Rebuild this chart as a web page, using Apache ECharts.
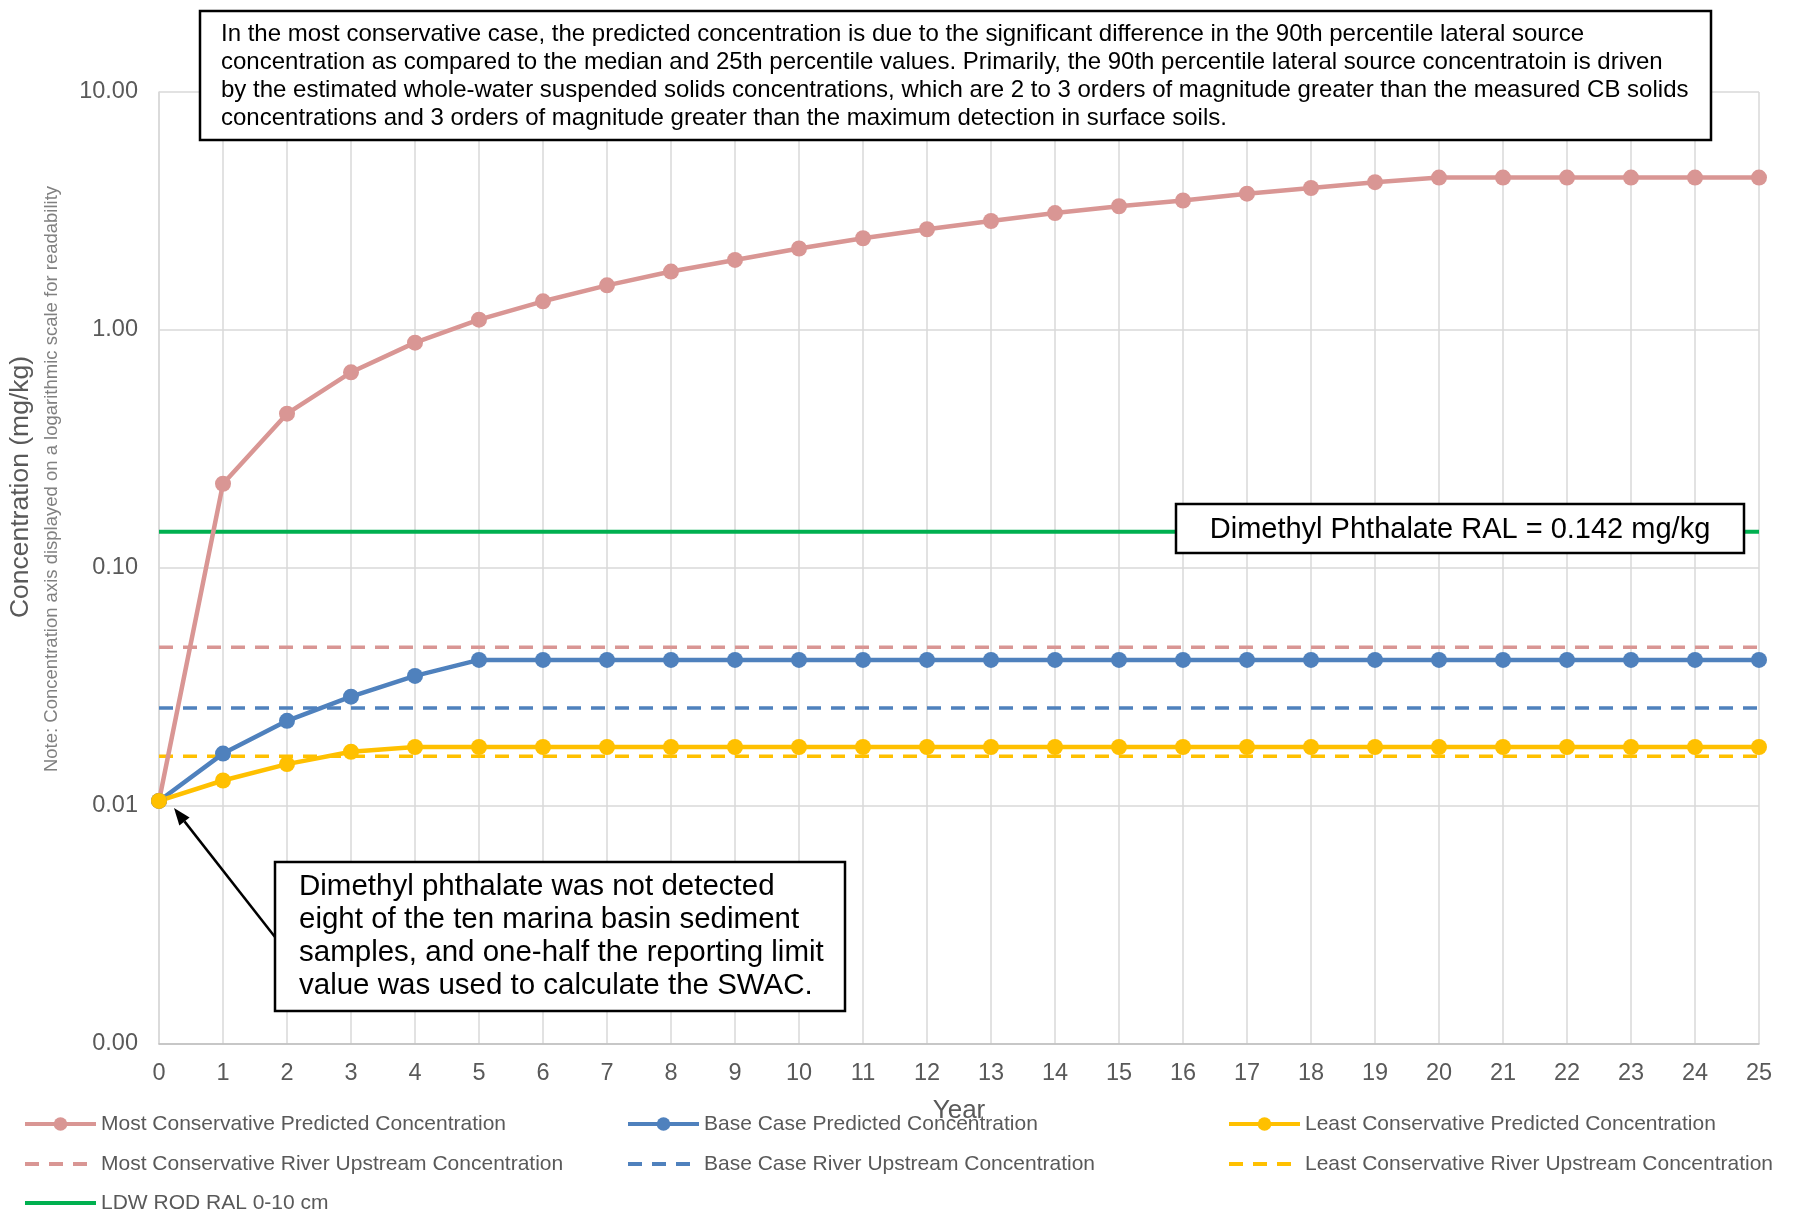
<!DOCTYPE html>
<html>
<head>
<meta charset="utf-8">
<script src="https://cdn.jsdelivr.net/npm/echarts@6/dist/echarts.min.js"></script>
<style>
    html, body { margin: 0; padding: 0; background: #fff; }
    #chart { width: 1797px; height: 1214px; }
</style>
</head>
<body>
<div id="chart"></div>
<script>
// data (mg/kg, log axis)
var years = [0, 1, 2, 3, 4, 5, 6, 7, 8, 9, 10, 11, 12, 13, 14, 15, 16, 17, 18, 19, 20, 21, 22, 23, 24, 25];
var mostPredicted = [0.0105, 0.226, 0.445, 0.664, 0.885, 1.105, 1.32, 1.54, 1.76, 1.97, 2.20, 2.43, 2.65, 2.87, 3.10, 3.31, 3.50, 3.74, 3.95, 4.18, 4.37, 4.37, 4.37, 4.37, 4.37, 4.37];
var basePredicted = [0.0105, 0.0166, 0.0228, 0.0288, 0.0352, 0.0411, 0.0411, 0.0411, 0.0411, 0.0411, 0.0411, 0.0411, 0.0411, 0.0411, 0.0411, 0.0411, 0.0411, 0.0411, 0.0411, 0.0411, 0.0411, 0.0411, 0.0411, 0.0411, 0.0411, 0.0411];
var leastPredicted = [0.0105, 0.0128, 0.0150, 0.0169, 0.0177, 0.0177, 0.0177, 0.0177, 0.0177, 0.0177, 0.0177, 0.0177, 0.0177, 0.0177, 0.0177, 0.0177, 0.0177, 0.0177, 0.0177, 0.0177, 0.0177, 0.0177, 0.0177, 0.0177, 0.0177, 0.0177];
var mostUpstream = 0.0464;
var baseUpstream = 0.0258;
var leastUpstream = 0.0162;
var ralValue = 0.142;
var yearRange = [0, 25];

var FONT = "'Liberation Sans', Arial, sans-serif";
var PINK = '#D99694', BLUE = '#4F81BD', YELLOW = '#FFC000', GREEN = '#00B050';

var topNote = 'In the most conservative case, the predicted concentration is due to the significant difference in the 90th percentile lateral source\n' +
    'concentration as compared to the median and 25th percentile values. Primarily, the 90th percentile lateral source concentratoin is driven\n' +
    'by the estimated whole-water suspended solids concentrations, which are 2 to 3 orders of magnitude greater than the measured CB solids\n' +
    'concentrations and 3 orders of magnitude greater than the maximum detection in surface soils.';
var ndNote = 'Dimethyl phthalate was not detected\neight of the ten marina basin sediment\nsamples, and one-half the reporting limit\nvalue was used to calculate the SWAC.';

function pairs(ys) {
    var out = [];
    for (var i = 0; i < years.length; i++) out.push([years[i], ys[i]]);
    return out;
}
function flat(v) {
    return [[yearRange[0], v], [yearRange[1], v]];
}
function predicted(name, color, ys) {
    return {
        name: name, type: 'line', data: pairs(ys),
        symbol: 'circle', symbolSize: 16, showAllSymbol: true,
        lineStyle: { color: color, width: 4.5 },
        itemStyle: { color: color }
    };
}
function upstream(name, color, v) {
    return {
        name: name, type: 'line', data: flat(v), symbol: 'none',
        lineStyle: { color: color, width: 3.5, type: [14, 10] },
        itemStyle: { color: color }
    };
}
// one legend per entry so the three columns line up like the original
function legendItem(left, centerY, name, noDot) {
    var entry = { name: name };
    if (noDot) entry.itemStyle = { opacity: 0 };
    return {
        orient: 'horizontal', left: left, top: centerY - 10, padding: 0,
        itemWidth: 71, itemHeight: 17,
        lineStyle: { width: 4 },
        textStyle: { fontFamily: FONT, fontSize: 21, color: '#595959', lineHeight: 24 },
        data: [entry]
    };
}

// arrow to year 0 point
var tail = [275, 937], tip = [174, 808];
var dx = tip[0] - tail[0], dy = tip[1] - tail[1], len = Math.sqrt(dx * dx + dy * dy);
var ux = dx / len, uy = dy / len;
var hb = [tip[0] - 17 * ux, tip[1] - 17 * uy];
var head = [tip, [hb[0] - 6.5 * uy, hb[1] + 6.5 * ux], [hb[0] + 6.5 * uy, hb[1] - 6.5 * ux]];

var chart = echarts.init(document.getElementById('chart'));
chart.setOption({
    backgroundColor: '#fff',
    animation: false,
    textStyle: { fontFamily: FONT },
    grid: { left: 159, top: 92, width: 1600, height: 952 },
    legend: [
        legendItem(23, 1122, 'Most Conservative Predicted Concentration'),
        legendItem(626, 1122, 'Base Case Predicted Concentration'),
        legendItem(1227, 1122, 'Least Conservative Predicted Concentration'),
        legendItem(23, 1162, 'Most Conservative River Upstream Concentration', true),
        legendItem(626, 1162, 'Base Case River Upstream Concentration', true),
        legendItem(1227, 1162, 'Least Conservative River Upstream Concentration', true),
        legendItem(23, 1201, 'LDW ROD RAL 0-10 cm', true)
    ],
    xAxis: {
        type: 'value', min: 0, max: 25, interval: 1,
        name: 'Year', nameLocation: 'middle', nameGap: 54,
        nameTextStyle: { fontFamily: FONT, fontSize: 26, color: '#595959' },
        axisLine: { lineStyle: { color: '#BFBFBF', width: 1.5 } },
        axisTick: { show: false },
        axisLabel: { fontSize: 23.5, color: '#595959', margin: 18 },
        splitLine: { show: true, lineStyle: { color: '#D9D9D9', width: 1.5 } }
    },
    yAxis: {
        type: 'log', logBase: 10, min: 0.001, max: 10,
        axisLine: { show: true, lineStyle: { color: '#D9D9D9', width: 1.5 } },
        axisTick: { show: false },
        axisLabel: { fontSize: 23.5, color: '#595959', margin: 21, formatter: function (v) { return v.toFixed(2); } },
        splitLine: { show: true, lineStyle: { color: '#D9D9D9', width: 1.5 } }
    },
    series: [
        {
            name: 'LDW ROD RAL 0-10 cm', type: 'line', data: flat(ralValue), symbol: 'none',
            lineStyle: { color: GREEN, width: 4 }, itemStyle: { color: GREEN }
        },
        upstream('Most Conservative River Upstream Concentration', PINK, mostUpstream),
        upstream('Base Case River Upstream Concentration', BLUE, baseUpstream),
        upstream('Least Conservative River Upstream Concentration', YELLOW, leastUpstream),
        predicted('Most Conservative Predicted Concentration', PINK, mostPredicted),
        predicted('Base Case Predicted Concentration', BLUE, basePredicted),
        predicted('Least Conservative Predicted Concentration', YELLOW, leastPredicted)
    ],
    graphic: [
        {
            type: 'text', x: 21, y: 487, rotation: Math.PI / 2,
            style: { text: 'Concentration (mg/kg)', fontFamily: FONT, fontSize: 26.5, fill: '#595959', align: 'center', verticalAlign: 'middle' }
        },
        {
            type: 'text', x: 52, y: 479, rotation: Math.PI / 2,
            style: { text: 'Note: Concentration axis displayed on a logarithmic scale for readability', fontFamily: FONT, fontSize: 18.5, fill: '#808080', align: 'center', verticalAlign: 'middle' }
        },
        {
            type: 'rect', z: 100, shape: { x: 200, y: 11, width: 1511, height: 129 },
            style: { fill: '#fff', stroke: '#000', lineWidth: 2.5 }
        },
        {
            type: 'text', z: 101, x: 221, y: 20,
            style: { text: topNote, fontFamily: FONT, fontSize: 24, lineHeight: 28, fill: '#000' }
        },
        {
            type: 'rect', z: 100, shape: { x: 1176, y: 504, width: 568, height: 49 },
            style: { fill: '#fff', stroke: '#000', lineWidth: 2.5 }
        },
        {
            type: 'text', z: 101, x: 1460, y: 530,
            style: { text: 'Dimethyl Phthalate RAL = 0.142 mg/kg', fontFamily: FONT, fontSize: 29, fill: '#000', align: 'center', verticalAlign: 'middle' }
        },
        {
            type: 'line', z: 100, shape: { x1: tail[0], y1: tail[1], x2: hb[0], y2: hb[1] },
            style: { stroke: '#000', lineWidth: 2.5 }
        },
        {
            type: 'polygon', z: 100, shape: { points: head },
            style: { fill: '#000' }
        },
        {
            type: 'rect', z: 100, shape: { x: 275, y: 862, width: 570, height: 149 },
            style: { fill: '#fff', stroke: '#000', lineWidth: 2.5 }
        },
        {
            type: 'text', z: 101, x: 299, y: 870,
            style: { text: ndNote, fontFamily: FONT, fontSize: 29.5, lineHeight: 33, fill: '#000' }
        }
    ]
});
</script>
</body>
</html>
